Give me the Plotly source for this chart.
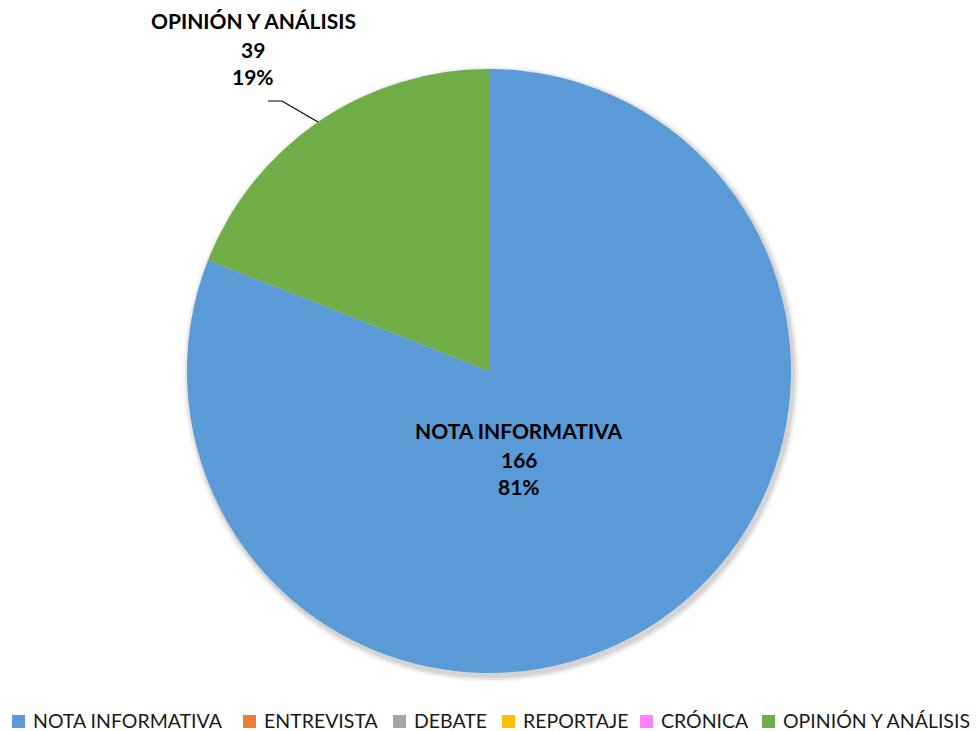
import plotly.graph_objects as go

# Categories and counts
categories = ["NOTA INFORMATIVA", "ENTREVISTA", "DEBATE", "REPORTAJE", "CRÓNICA", "OPINIÓN Y ANÁLISIS"]
counts = [166, 0, 0, 0, 0, 39]
colors = ["#5a9ad6", "#ed7d31", "#a5a5a5", "#ffc000", "#ff80ff", "#70ad47"]

W, H = 979, 731
FONT = "Lato"

# pie geometry (pixels)
CX, CY, R = 489, 371, 302

total = sum(counts)
pct = [round(100 * c / total) for c in counts]


def px(x):
    return x / W


def py(y):
    return 1 - y / H


fig = go.Figure()
fig.add_trace(go.Pie(
    labels=categories,
    values=counts,
    sort=False,
    direction="clockwise",
    rotation=0,
    marker=dict(colors=colors, line=dict(width=0)),
    textinfo="none",
    hoverinfo="label+value+percent",
    domain=dict(x=[px(CX - R), px(CX + R)], y=[py(CY + R), py(CY - R)]),
    showlegend=False,
))

annotations = []
shapes = []

# soft drop shadow under the pie
for grow, alpha in [(6, 0.04), (4, 0.06), (2, 0.08)]:
    r = R + grow
    shapes.append(dict(
        type="circle", xref="paper", yref="paper", layer="below",
        x0=px(CX - r + 2), x1=px(CX + r + 2), y0=py(CY + r + 3), y1=py(CY - r + 3),
        fillcolor=f"rgba(0,0,0,{alpha})", line=dict(width=0),
    ))


def label_block(i, cx, cy, dy=28):
    lines = [categories[i], str(counts[i]), f"{pct[i]}%"]
    for k, t in enumerate(lines):
        annotations.append(dict(
            x=px(cx), y=py(cy + k * dy), xref="paper", yref="paper",
            text=f"<b>{t}</b>", showarrow=False,
            font=dict(family=FONT, size=21, color="#000000"),
            xanchor="center", yanchor="middle",
        ))


label_block(0, 519, 431)
label_block(5, 253, 21)

# leader line for the outside label
shapes.append(dict(
    type="path", xref="paper", yref="paper",
    path=f"M {px(268)},{py(101)} L {px(282)},{py(101)} L {px(318)},{py(122)}",
    line=dict(color="#000000", width=1.2),
))

# legend row: swatch + label for every category
legend_text_x = [32, 263, 413, 522, 660, 782]
LEG_Y = 720
for name, col, tx in zip(categories, colors, legend_text_x):
    shapes.append(dict(
        type="rect", xref="paper", yref="paper",
        x0=px(tx - 20), x1=px(tx - 7), y0=py(LEG_Y + 8), y1=py(LEG_Y - 5),
        fillcolor=col, line=dict(width=0),
    ))
    annotations.append(dict(
        x=px(tx), y=py(LEG_Y), xref="paper", yref="paper",
        text=name, showarrow=False, borderpad=0,
        font=dict(family=FONT, size=19.5, color="#1a1a1a"),
        xanchor="left", yanchor="middle",
    ))

fig.update_layout(
    width=W, height=H,
    margin=dict(l=0, r=0, t=0, b=0),
    paper_bgcolor="white",
    plot_bgcolor="white",
    annotations=annotations,
    shapes=shapes,
    showlegend=False,
)

fig.write_html("out.html")
